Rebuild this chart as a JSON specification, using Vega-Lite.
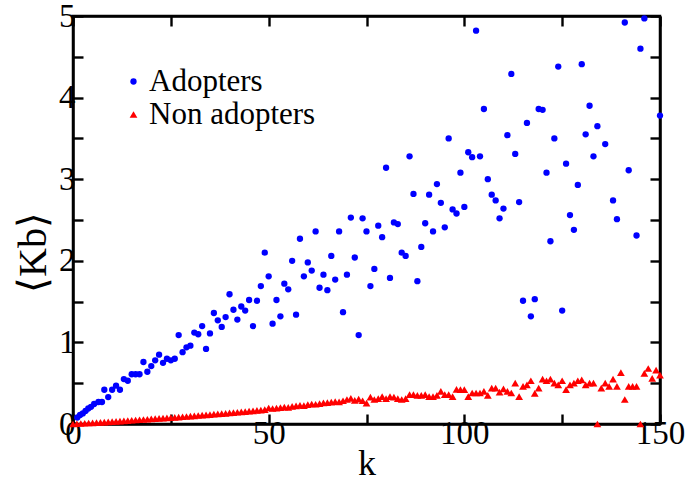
{
  "$schema": "https://vega.github.io/schema/vega-lite/v6.json",
  "width": 587,
  "height": 408,
  "autosize": {"type": "none"},
  "padding": {"left": 73, "top": 16, "right": 25, "bottom": 58},
  "background": "white",
  "config": {
    "view": {"stroke": "black", "strokeWidth": 2.5},
    "font": "Liberation Serif, Times New Roman, serif",
    "axis": {
      "grid": false,
      "domainColor": "black",
      "domainWidth": 2.5,
      "tickColor": "black",
      "tickWidth": 2.4,
      "tickSize": -10,
      "labelFont": "Liberation Serif, Times New Roman, serif",
      "labelFontSize": 33,
      "labelColor": "black",
      "labelFlush": false,
      "labelOverlap": false,
      "labelBound": false,
      "titleFont": "Liberation Serif, Times New Roman, serif",
      "titleFontSize": 36,
      "titleFontWeight": "normal",
      "titleColor": "black"
    }
  },
  "datasets": {
    "pts": [
      {"k":1.1,"v":0.08,"s":"Adopters"},{"k":1.8,"v":0.11,"s":"Adopters"},{"k":2.5,"v":0.13,"s":"Adopters"},{"k":3.2,"v":0.16,"s":"Adopters"},{"k":3.9,"v":0.19,"s":"Adopters"},{"k":4.6,"v":0.21,"s":"Adopters"},{"k":5.4,"v":0.245,"s":"Adopters"},{"k":6.5,"v":0.27,"s":"Adopters"},{"k":7.4,"v":0.27,"s":"Adopters"},
      {"k":8,"v":0.42,"s":"Adopters"},{"k":9,"v":0.33,"s":"Adopters"},{"k":10,"v":0.42,"s":"Adopters"},{"k":11,"v":0.47,"s":"Adopters"},{"k":12,"v":0.42,"s":"Adopters"},{"k":13,"v":0.55,"s":"Adopters"},{"k":14,"v":0.53,"s":"Adopters"},{"k":15,"v":0.61,"s":"Adopters"},{"k":16,"v":0.61,"s":"Adopters"},{"k":17,"v":0.61,"s":"Adopters"},{"k":18,"v":0.76,"s":"Adopters"},{"k":19,"v":0.64,"s":"Adopters"},{"k":20,"v":0.71,"s":"Adopters"},
      {"k":21,"v":0.78,"s":"Adopters"},{"k":22,"v":0.85,"s":"Adopters"},{"k":23,"v":0.75,"s":"Adopters"},{"k":24,"v":0.80,"s":"Adopters"},{"k":25,"v":0.78,"s":"Adopters"},{"k":26,"v":0.80,"s":"Adopters"},{"k":27,"v":1.09,"s":"Adopters"},{"k":28,"v":0.88,"s":"Adopters"},{"k":29,"v":0.94,"s":"Adopters"},{"k":30,"v":0.96,"s":"Adopters"},
      {"k":31,"v":1.12,"s":"Adopters"},{"k":32,"v":1.10,"s":"Adopters"},{"k":33,"v":1.20,"s":"Adopters"},{"k":34,"v":0.92,"s":"Adopters"},{"k":35,"v":1.11,"s":"Adopters"},{"k":36,"v":1.36,"s":"Adopters"},{"k":37,"v":1.27,"s":"Adopters"},{"k":38,"v":1.19,"s":"Adopters"},{"k":39,"v":1.31,"s":"Adopters"},{"k":40,"v":1.59,"s":"Adopters"},
      {"k":41,"v":1.40,"s":"Adopters"},{"k":42,"v":1.28,"s":"Adopters"},{"k":43,"v":1.44,"s":"Adopters"},{"k":44,"v":1.39,"s":"Adopters"},{"k":45,"v":1.52,"s":"Adopters"},{"k":46,"v":1.20,"s":"Adopters"},{"k":47,"v":1.51,"s":"Adopters"},{"k":48,"v":1.69,"s":"Adopters"},{"k":49,"v":2.10,"s":"Adopters"},{"k":50,"v":1.81,"s":"Adopters"},
      {"k":51,"v":1.23,"s":"Adopters"},{"k":52,"v":1.52,"s":"Adopters"},{"k":53,"v":1.32,"s":"Adopters"},{"k":54,"v":1.72,"s":"Adopters"},{"k":55,"v":1.65,"s":"Adopters"},{"k":56,"v":2.00,"s":"Adopters"},{"k":57,"v":1.34,"s":"Adopters"},{"k":58,"v":2.27,"s":"Adopters"},{"k":59,"v":1.81,"s":"Adopters"},{"k":60,"v":1.98,"s":"Adopters"},
      {"k":61,"v":1.88,"s":"Adopters"},{"k":62,"v":2.36,"s":"Adopters"},{"k":63,"v":1.67,"s":"Adopters"},{"k":64,"v":1.83,"s":"Adopters"},{"k":65,"v":1.64,"s":"Adopters"},{"k":66,"v":2.06,"s":"Adopters"},{"k":67,"v":1.77,"s":"Adopters"},{"k":68,"v":2.36,"s":"Adopters"},{"k":69,"v":1.37,"s":"Adopters"},{"k":70,"v":1.83,"s":"Adopters"},
      {"k":71,"v":2.53,"s":"Adopters"},{"k":72,"v":2.04,"s":"Adopters"},{"k":73,"v":1.09,"s":"Adopters"},{"k":74,"v":2.52,"s":"Adopters"},{"k":75,"v":2.36,"s":"Adopters"},{"k":76,"v":1.69,"s":"Adopters"},{"k":77,"v":1.90,"s":"Adopters"},{"k":78,"v":2.43,"s":"Adopters"},{"k":79,"v":2.29,"s":"Adopters"},{"k":80,"v":3.14,"s":"Adopters"},
      {"k":81,"v":1.79,"s":"Adopters"},{"k":82,"v":2.47,"s":"Adopters"},{"k":83,"v":2.45,"s":"Adopters"},{"k":84,"v":2.10,"s":"Adopters"},{"k":85,"v":2.06,"s":"Adopters"},{"k":86,"v":3.28,"s":"Adopters"},{"k":87,"v":2.82,"s":"Adopters"},{"k":88,"v":1.75,"s":"Adopters"},{"k":89,"v":2.17,"s":"Adopters"},{"k":90,"v":2.46,"s":"Adopters"},
      {"k":91,"v":2.81,"s":"Adopters"},{"k":92,"v":2.36,"s":"Adopters"},{"k":93,"v":2.94,"s":"Adopters"},{"k":94,"v":2.71,"s":"Adopters"},{"k":95,"v":2.41,"s":"Adopters"},{"k":96,"v":3.50,"s":"Adopters"},{"k":97,"v":2.63,"s":"Adopters"},{"k":98,"v":2.58,"s":"Adopters"},{"k":99,"v":3.08,"s":"Adopters"},{"k":100,"v":2.66,"s":"Adopters"},
      {"k":101,"v":3.33,"s":"Adopters"},{"k":102,"v":3.27,"s":"Adopters"},{"k":103,"v":4.82,"s":"Adopters"},{"k":104,"v":3.28,"s":"Adopters"},{"k":105,"v":3.86,"s":"Adopters"},{"k":106,"v":3.00,"s":"Adopters"},{"k":107,"v":2.81,"s":"Adopters"},{"k":108,"v":2.74,"s":"Adopters"},{"k":109,"v":2.52,"s":"Adopters"},{"k":110,"v":2.64,"s":"Adopters"},
      {"k":111,"v":3.54,"s":"Adopters"},{"k":112,"v":4.29,"s":"Adopters"},{"k":113,"v":3.31,"s":"Adopters"},{"k":114,"v":2.72,"s":"Adopters"},{"k":115,"v":1.51,"s":"Adopters"},{"k":116,"v":3.69,"s":"Adopters"},{"k":117,"v":1.32,"s":"Adopters"},{"k":118,"v":1.53,"s":"Adopters"},{"k":119,"v":3.86,"s":"Adopters"},{"k":120,"v":3.85,"s":"Adopters"},
      {"k":121,"v":3.08,"s":"Adopters"},{"k":122,"v":2.24,"s":"Adopters"},{"k":123,"v":3.50,"s":"Adopters"},{"k":124,"v":4.38,"s":"Adopters"},{"k":125,"v":1.39,"s":"Adopters"},{"k":126,"v":3.19,"s":"Adopters"},{"k":127,"v":2.56,"s":"Adopters"},{"k":128,"v":2.38,"s":"Adopters"},{"k":129,"v":2.93,"s":"Adopters"},{"k":130,"v":4.41,"s":"Adopters"},
      {"k":131,"v":3.55,"s":"Adopters"},{"k":132,"v":3.90,"s":"Adopters"},{"k":133,"v":3.28,"s":"Adopters"},{"k":134,"v":3.65,"s":"Adopters"},{"k":136,"v":3.43,"s":"Adopters"},{"k":138,"v":2.74,"s":"Adopters"},{"k":139,"v":2.51,"s":"Adopters"},{"k":141,"v":4.92,"s":"Adopters"},{"k":142,"v":3.11,"s":"Adopters"},{"k":144,"v":2.31,"s":"Adopters"},{"k":145,"v":4.60,"s":"Adopters"},{"k":146,"v":4.97,"s":"Adopters"},{"k":150,"v":3.78,"s":"Adopters"},
      {"k":0,"v":0.0,"s":"Non adopters"},{"k":1,"v":0.003,"s":"Non adopters"},{"k":2,"v":0.006,"s":"Non adopters"},{"k":3,"v":0.009,"s":"Non adopters"},{"k":4,"v":0.012,"s":"Non adopters"},{"k":5,"v":0.015,"s":"Non adopters"},{"k":6,"v":0.018,"s":"Non adopters"},{"k":7,"v":0.021,"s":"Non adopters"},{"k":8,"v":0.024,"s":"Non adopters"},{"k":9,"v":0.027,"s":"Non adopters"},{"k":10,"v":0.030,"s":"Non adopters"},
      {"k":11,"v":0.033,"s":"Non adopters"},{"k":12,"v":0.036,"s":"Non adopters"},{"k":13,"v":0.039,"s":"Non adopters"},{"k":14,"v":0.042,"s":"Non adopters"},{"k":15,"v":0.046,"s":"Non adopters"},{"k":16,"v":0.049,"s":"Non adopters"},{"k":17,"v":0.052,"s":"Non adopters"},{"k":18,"v":0.055,"s":"Non adopters"},{"k":19,"v":0.058,"s":"Non adopters"},{"k":20,"v":0.062,"s":"Non adopters"},
      {"k":21,"v":0.065,"s":"Non adopters"},{"k":22,"v":0.068,"s":"Non adopters"},{"k":23,"v":0.072,"s":"Non adopters"},{"k":24,"v":0.075,"s":"Non adopters"},{"k":25,"v":0.078,"s":"Non adopters"},{"k":26,"v":0.082,"s":"Non adopters"},{"k":27,"v":0.085,"s":"Non adopters"},{"k":28,"v":0.089,"s":"Non adopters"},{"k":29,"v":0.092,"s":"Non adopters"},{"k":30,"v":0.096,"s":"Non adopters"},
      {"k":31,"v":0.100,"s":"Non adopters"},{"k":32,"v":0.104,"s":"Non adopters"},{"k":33,"v":0.108,"s":"Non adopters"},{"k":34,"v":0.112,"s":"Non adopters"},{"k":35,"v":0.116,"s":"Non adopters"},{"k":36,"v":0.120,"s":"Non adopters"},{"k":37,"v":0.124,"s":"Non adopters"},{"k":38,"v":0.128,"s":"Non adopters"},{"k":39,"v":0.131,"s":"Non adopters"},{"k":40,"v":0.136,"s":"Non adopters"},
      {"k":41,"v":0.140,"s":"Non adopters"},{"k":42,"v":0.144,"s":"Non adopters"},{"k":43,"v":0.148,"s":"Non adopters"},{"k":44,"v":0.152,"s":"Non adopters"},{"k":45,"v":0.157,"s":"Non adopters"},{"k":46,"v":0.162,"s":"Non adopters"},{"k":47,"v":0.166,"s":"Non adopters"},{"k":48,"v":0.170,"s":"Non adopters"},{"k":49,"v":0.176,"s":"Non adopters"},{"k":50,"v":0.196,"s":"Non adopters"},
      {"k":51,"v":0.190,"s":"Non adopters"},{"k":52,"v":0.195,"s":"Non adopters"},{"k":53,"v":0.200,"s":"Non adopters"},{"k":54,"v":0.206,"s":"Non adopters"},{"k":55,"v":0.205,"s":"Non adopters"},{"k":56,"v":0.215,"s":"Non adopters"},{"k":57,"v":0.222,"s":"Non adopters"},{"k":58,"v":0.228,"s":"Non adopters"},{"k":59,"v":0.225,"s":"Non adopters"},{"k":60,"v":0.237,"s":"Non adopters"},
      {"k":61,"v":0.245,"s":"Non adopters"},{"k":62,"v":0.242,"s":"Non adopters"},{"k":63,"v":0.250,"s":"Non adopters"},{"k":64,"v":0.258,"s":"Non adopters"},{"k":65,"v":0.262,"s":"Non adopters"},{"k":66,"v":0.268,"s":"Non adopters"},{"k":67,"v":0.275,"s":"Non adopters"},{"k":68,"v":0.270,"s":"Non adopters"},{"k":69,"v":0.285,"s":"Non adopters"},{"k":70,"v":0.300,"s":"Non adopters"},
      {"k":71,"v":0.315,"s":"Non adopters"},{"k":72,"v":0.290,"s":"Non adopters"},{"k":73,"v":0.305,"s":"Non adopters"},{"k":74,"v":0.285,"s":"Non adopters"},{"k":75,"v":0.255,"s":"Non adopters"},{"k":76,"v":0.330,"s":"Non adopters"},{"k":77,"v":0.300,"s":"Non adopters"},{"k":78,"v":0.310,"s":"Non adopters"},{"k":79,"v":0.335,"s":"Non adopters"},{"k":80,"v":0.31,"s":"Non adopters"},
      {"k":81,"v":0.335,"s":"Non adopters"},{"k":82,"v":0.33,"s":"Non adopters"},{"k":83,"v":0.31,"s":"Non adopters"},{"k":84,"v":0.30,"s":"Non adopters"},{"k":85,"v":0.31,"s":"Non adopters"},{"k":86,"v":0.36,"s":"Non adopters"},{"k":87,"v":0.36,"s":"Non adopters"},{"k":88,"v":0.35,"s":"Non adopters"},{"k":89,"v":0.35,"s":"Non adopters"},{"k":90,"v":0.36,"s":"Non adopters"},
      {"k":91,"v":0.335,"s":"Non adopters"},{"k":92,"v":0.335,"s":"Non adopters"},{"k":93,"v":0.35,"s":"Non adopters"},{"k":94,"v":0.40,"s":"Non adopters"},{"k":95,"v":0.36,"s":"Non adopters"},{"k":96,"v":0.36,"s":"Non adopters"},{"k":97,"v":0.335,"s":"Non adopters"},{"k":98,"v":0.425,"s":"Non adopters"},{"k":99,"v":0.42,"s":"Non adopters"},{"k":100,"v":0.42,"s":"Non adopters"},
      {"k":101,"v":0.335,"s":"Non adopters"},{"k":102,"v":0.38,"s":"Non adopters"},{"k":103,"v":0.38,"s":"Non adopters"},{"k":104,"v":0.38,"s":"Non adopters"},{"k":105,"v":0.40,"s":"Non adopters"},{"k":106,"v":0.35,"s":"Non adopters"},{"k":107,"v":0.44,"s":"Non adopters"},{"k":108,"v":0.44,"s":"Non adopters"},{"k":109,"v":0.39,"s":"Non adopters"},{"k":110,"v":0.43,"s":"Non adopters"},
      {"k":111,"v":0.40,"s":"Non adopters"},{"k":112,"v":0.38,"s":"Non adopters"},{"k":113,"v":0.50,"s":"Non adopters"},{"k":114,"v":0.335,"s":"Non adopters"},{"k":115,"v":0.46,"s":"Non adopters"},{"k":116,"v":0.48,"s":"Non adopters"},{"k":117,"v":0.53,"s":"Non adopters"},{"k":118,"v":0.376,"s":"Non adopters"},{"k":119,"v":0.44,"s":"Non adopters"},{"k":120,"v":0.55,"s":"Non adopters"},
      {"k":121,"v":0.53,"s":"Non adopters"},{"k":122,"v":0.55,"s":"Non adopters"},{"k":123,"v":0.50,"s":"Non adopters"},{"k":124,"v":0.48,"s":"Non adopters"},{"k":125,"v":0.53,"s":"Non adopters"},{"k":126,"v":0.42,"s":"Non adopters"},{"k":127,"v":0.48,"s":"Non adopters"},{"k":128,"v":0.50,"s":"Non adopters"},{"k":129,"v":0.53,"s":"Non adopters"},{"k":130,"v":0.54,"s":"Non adopters"},
      {"k":131,"v":0.48,"s":"Non adopters"},{"k":132,"v":0.50,"s":"Non adopters"},{"k":133,"v":0.50,"s":"Non adopters"},{"k":134,"v":0.0,"s":"Non adopters"},{"k":135,"v":0.44,"s":"Non adopters"},{"k":136,"v":0.50,"s":"Non adopters"},{"k":137,"v":0.46,"s":"Non adopters"},{"k":138,"v":0.55,"s":"Non adopters"},{"k":139,"v":0.46,"s":"Non adopters"},{"k":140,"v":0.63,"s":"Non adopters"},
      {"k":141,"v":0.30,"s":"Non adopters"},{"k":142,"v":0.46,"s":"Non adopters"},{"k":143,"v":0.46,"s":"Non adopters"},{"k":144,"v":0.46,"s":"Non adopters"},{"k":145,"v":0.0,"s":"Non adopters"},{"k":146,"v":0.62,"s":"Non adopters"},{"k":147,"v":0.68,"s":"Non adopters"},{"k":148,"v":0.56,"s":"Non adopters"},{"k":149,"v":0.66,"s":"Non adopters"},{"k":150,"v":0.60,"s":"Non adopters"}
    ]
  },
  "data": {"name": "pts"},
  "layer": [
    {
      "mark": {"type": "point", "filled": true, "opacity": 1, "strokeWidth": 0},
      "encoding": {
        "x": {
          "field": "k", "type": "quantitative",
          "scale": {"domain": [0, 150], "nice": false, "zero": false},
          "axis": {
            "orient": "bottom",
            "values": [0, 25, 50, 75, 100, 125, 150],
            "labelExpr": "datum.value % 50 == 0 ? format(datum.value, 'd') : ''",
            "labelPadding": 3,
            "title": "k",
            "titlePadding": -4
          }
        },
        "y": {
          "field": "v", "type": "quantitative",
          "scale": {"domain": [0, 5], "nice": false},
          "axis": {
            "orient": "left",
            "values": [0, 0.5, 1, 1.5, 2, 2.5, 3, 3.5, 4, 4.5, 5],
            "labelExpr": "datum.value % 1 == 0 ? format(datum.value, 'd') : ''",
            "labelPadding": 8,
            "title": "⟨Kb⟩",
            "titleFontSize": 40,
            "titlePadding": 5,
            "titleY": 236
          }
        },
        "color": {
          "field": "s", "type": "nominal",
          "scale": {"domain": ["Adopters", "Non adopters"], "range": ["#0000ff", "#ff0000"]},
          "legend": {"orient": "none", "legendX": 45, "legendY": 50, "title": null, "labelFont": "Liberation Serif, Times New Roman, serif", "labelFontSize": 31, "labelColor": "black", "labelLimit": 400, "symbolSize": 36, "labelOffset": 0, "rowPadding": 1}
        },
        "shape": {
          "field": "s", "type": "nominal",
          "scale": {"domain": ["Adopters", "Non adopters"], "range": ["circle", "triangle-up"]},
          "legend": {"orient": "none", "legendX": 45, "legendY": 50, "title": null, "labelFont": "Liberation Serif, Times New Roman, serif", "labelFontSize": 31, "labelColor": "black", "labelLimit": 400, "symbolSize": 36, "labelOffset": 0, "rowPadding": 1}
        },
        "size": {
          "field": "s", "type": "nominal",
          "scale": {"domain": ["Adopters", "Non adopters"], "range": [40, 60]},
          "legend": null
        }
      }
    },
    {
      "mark": {"type": "point", "opacity": 0},
      "encoding": {
        "x": {
          "field": "k", "type": "quantitative",
          "axis": {"orient": "top", "values": [0, 25, 50, 75, 100, 125, 150], "labels": false, "title": null, "ticks": true, "domain": true}
        },
        "y": {
          "field": "v", "type": "quantitative",
          "axis": {"orient": "right", "values": [0, 0.5, 1, 1.5, 2, 2.5, 3, 3.5, 4, 4.5, 5], "labels": false, "title": null, "ticks": true, "domain": true}
        }
      }
    }
  ],
  "resolve": {"axis": {"x": "independent", "y": "independent"}}
}
